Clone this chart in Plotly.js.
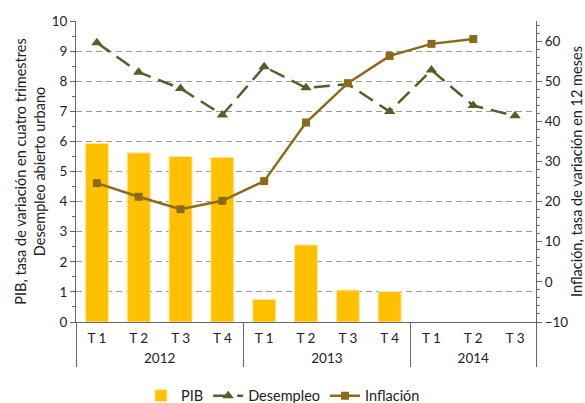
<!DOCTYPE html>
<html>
<head>
<meta charset="utf-8">
<script src="https://cdn.plot.ly/plotly-3.0.1.min.js"></script>
<style>html,body{margin:0;padding:0;background:#fff}#chart{width:585px;height:403px}</style>
</head>
<body>
<div id="chart"></div>
<script>
const years = ["2012","2012","2012","2012","2013","2013","2013","2013","2014","2014","2014"];
const quarters = ["T 1","T 2","T 3","T 4","T 1","T 2","T 3","T 4","T 1","T 2","T 3"];
const pib = [5.93,5.62,5.50,5.47,0.75,2.56,1.06,1.01,null,null,null];
const desempleo = [9.28,8.30,7.76,6.88,8.48,7.78,7.90,6.99,8.37,7.19,6.85];
const inflacion = [24.6,21.2,18.1,20.2,25.1,39.7,49.5,56.3,59.3,60.5,null];

const x = [years, quarters];
const fam = "Lato, 'Open Sans', sans-serif";
const tickFont = {family: fam, size: 13.5, color: "#222"};
const titleFont = {family: fam, size: 14.5, color: "#222"};
const legendFont = {family: fam, size: 14.5, color: "#222"};
const pad = "<span style='font-size:18.5px'>\u200A</span>";

const traces = [
  {type: "bar", name: "PIB", x: x, y: pib, width: 0.55,
   marker: {color: "#FFC000", line: {color: "#FFE9A0", width: 1}}},
  {type: "scatter", mode: "lines+markers", name: "Desempleo", x: x, y: desempleo,
   line: {color: "#4F6228", width: 2.5, dash: "16px,8px"},
   marker: {symbol: "triangle-up", size: 10, color: "#4F6228"}},
  {type: "scatter", mode: "lines+markers", name: "Inflación", x: x, y: inflacion, yaxis: "y2",
   line: {color: "#8C6A17", width: 2.5},
   marker: {symbol: "square", size: 8, color: "#8C6A17"}}
];

const layout = {
  width: 585, height: 403,
  margin: {l: 76, r: 49, t: 21, b: 81, autoexpand: false},
  paper_bgcolor: "#fff", plot_bgcolor: "#fff",
  font: tickFont,
  showlegend: true,
  legend: {orientation: "h", x: 0.45, xanchor: "center",
           y: -0.245, yanchor: "middle", font: legendFont, traceorder: "normal"},
  xaxis: {type: "multicategory", range: [-0.5, 10.5], automargin: false, tickangle: 0,
          showline: true, linecolor: "#666", linewidth: 1,
          showdividers: true, dividercolor: "#666", dividerwidth: 1,
          ticks: "", ticklabelstandoff: 4, tickprefix: pad, ticksuffix: pad,
          tickfont: tickFont, showgrid: false, zeroline: false},
  yaxis: {range: [0, 10], dtick: 1, tick0: 0, automargin: true,
          showline: true, linecolor: "#666", linewidth: 1,
          ticks: "outside", ticklen: 5, tickcolor: "#666",
          minor: {dtick: 0.5, ticks: "outside", ticklen: 3, tickcolor: "#666", showgrid: false},
          showgrid: true, gridcolor: "#999", griddash: "6px,4px", gridwidth: 1,
          zeroline: false, tickfont: tickFont,
          title: {text: "PIB, tasa de variación en cuatro trimestres<br>Desempleo abierto urbano",
                  font: titleFont, standoff: 2}},
  yaxis2: {overlaying: "y", side: "right", range: [-10, 65], dtick: 10, tick0: 0, automargin: true,
           showline: true, linecolor: "#666", linewidth: 1,
           ticks: "outside", ticklen: 5, tickcolor: "#666",
           minor: {dtick: 2, ticks: "outside", ticklen: 3, tickcolor: "#666", showgrid: false},
           showgrid: false, zeroline: false, tickfont: tickFont,
           title: {text: "Inflación, tasa de variación en 12 meses", font: titleFont, standoff: 6}}
};

Plotly.newPlot("chart", traces, layout, {displayModeBar: false, staticPlot: true});
</script>
</body>
</html>
